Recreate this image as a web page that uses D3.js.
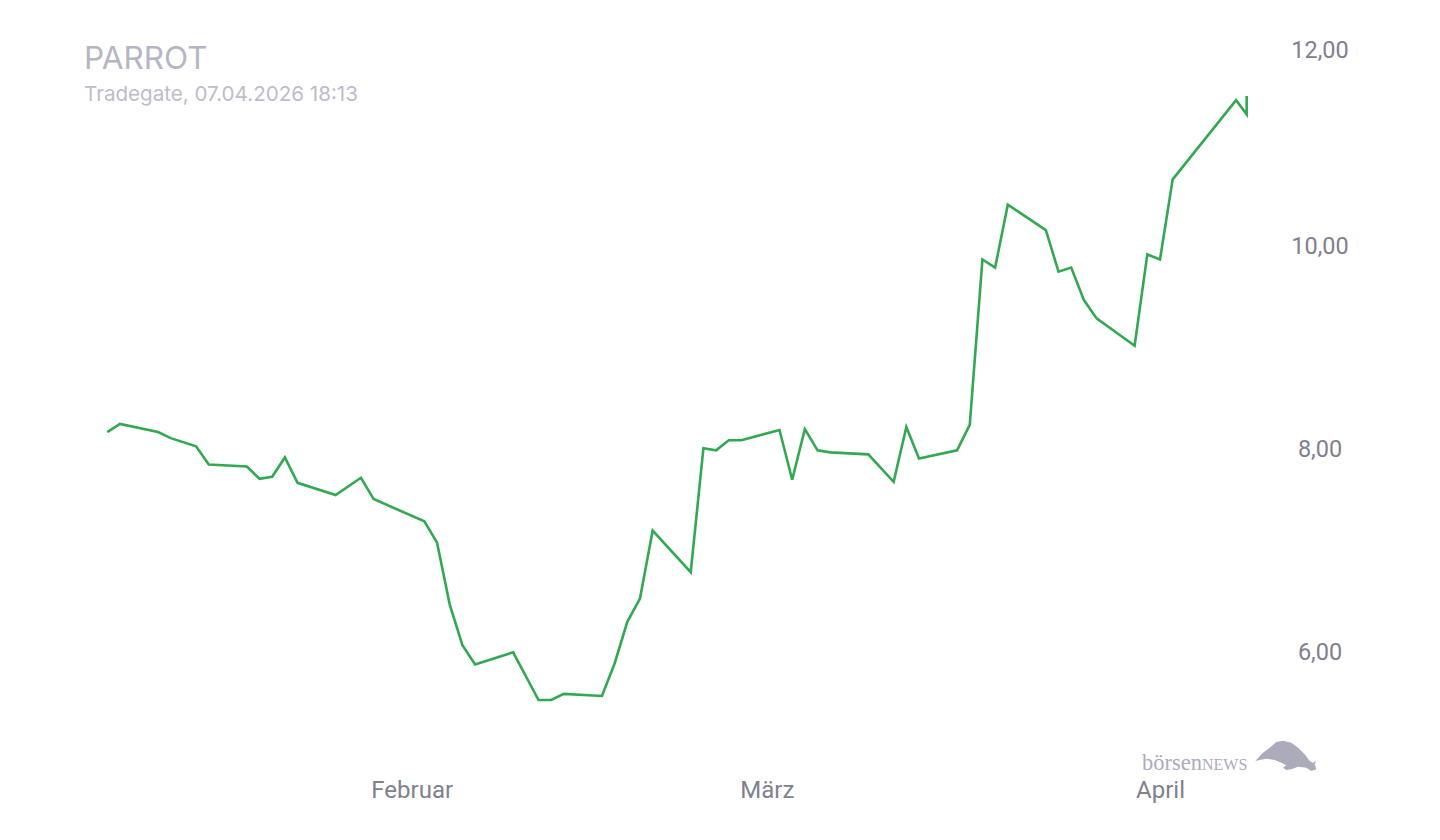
<!DOCTYPE html>
<html>
<head>
<meta charset="utf-8">
<script src="https://cdn.jsdelivr.net/npm/d3@7"></script>
<style>
  html, body { margin: 0; padding: 0; background: #ffffff; }
  svg { display: block; }
</style>
</head>
<body>
<svg id="chart" width="1440" height="840"></svg>
<script>
// ---- data ----
const dates = [
  "2026-01-08","2026-01-09","2026-01-12","2026-01-13","2026-01-15","2026-01-16",
  "2026-01-19","2026-01-20","2026-01-21","2026-01-22","2026-01-23","2026-01-26",
  "2026-01-28","2026-01-29","2026-02-02","2026-02-03","2026-02-04","2026-02-05",
  "2026-02-06","2026-02-09","2026-02-11","2026-02-12","2026-02-13","2026-02-16",
  "2026-02-17","2026-02-18","2026-02-19","2026-02-20","2026-02-23","2026-02-24",
  "2026-02-25","2026-02-26","2026-02-27","2026-03-02","2026-03-03","2026-03-04",
  "2026-03-05","2026-03-06","2026-03-09","2026-03-11","2026-03-12","2026-03-13",
  "2026-03-16","2026-03-17","2026-03-18","2026-03-19","2026-03-20","2026-03-23",
  "2026-03-24","2026-03-25","2026-03-26","2026-03-27","2026-03-30","2026-03-31",
  "2026-04-01","2026-04-02","2026-04-07","2026-04-07T20:00","2026-04-07T20:00"
];
const prices = [
  8.16, 8.24, 8.16, 8.10, 8.02, 7.84,
  7.82, 7.70, 7.72, 7.91, 7.66, 7.54,
  7.71, 7.50, 7.28, 7.07, 6.46, 6.06,
  5.87, 5.99, 5.52, 5.52, 5.58, 5.56,
  5.88, 6.29, 6.52, 7.19, 6.78, 8.00,
  7.98, 8.08, 8.08, 8.18, 7.69, 8.19,
  7.98, 7.96, 7.94, 7.67, 8.21, 7.90,
  7.98, 8.23, 9.86, 9.78, 10.40, 10.15,
  9.74, 9.78, 9.46, 9.28, 9.01, 9.91,
  9.86, 10.65, 11.43, 11.29, 11.47
];
const yTicks = [6, 8, 10, 12];
const xTickDates = ["2026-02-01","2026-03-01","2026-04-01"];
const xTickLabels = ["Februar","März","April"];
const titleText = "PARROT";
const subtitleText = "Tradegate, 07.04.2026 18:13";

// ---- setup ----
const svg = d3.select("#chart");
const parse = s => new Date(s.length > 10 ? s + ":00Z" : s + "T00:00:00Z");
const data = dates.map((d, i) => ({ date: parse(d), value: prices[i] }));

const x = d3.scaleUtc()
  .domain([parse("2026-01-08"), parse("2026-04-01")])
  .range([107.3, 1160]);
const y = d3.scaleLinear()
  .domain([6, 12])
  .range([651.3, 42.3]);

const axisColor = "#80808f";
const fontAxis = "Roboto, 'Noto Sans', sans-serif";

// ---- line ----
const line = d3.line()
  .x(d => x(d.date))
  .y(d => y(d.value));

svg.append("path")
  .datum(data)
  .attr("d", line)
  .attr("fill", "none")
  .attr("stroke", "#33a853")
  .attr("stroke-width", 2.6)
  .attr("stroke-linejoin", "miter")
  .attr("stroke-linecap", "butt");

// ---- y axis (right) ----
const fmt = v => d3.format(".2f")(v).replace(".", ",");
const yAxis = d3.axisRight(y).tickValues(yTicks).tickFormat(fmt).tickSize(0);
const gy = svg.append("g").attr("transform", "translate(1320,0)").call(yAxis);
gy.select(".domain").remove();
gy.selectAll(".tick").attr("transform", d => `translate(0,${Math.max(y(d), 50)})`);
gy.selectAll(".tick text")
  .attr("x", 0)
  .attr("dy", "0.355em")
  .attr("text-anchor", "middle")
  .attr("fill", axisColor)
  .style("font-family", fontAxis)
  .style("font-size", "23.5px");

// ---- x axis ----
const xAxis = d3.axisBottom(x)
  .tickValues(xTickDates.map(parse))
  .tickFormat((d, i) => xTickLabels[i])
  .tickSize(0);
const gx = svg.append("g").attr("transform", "translate(0,798)").call(xAxis);
gx.select(".domain").remove();
gx.selectAll(".tick text")
  .attr("y", 0)
  .attr("dy", 0)
  .attr("text-anchor", "middle")
  .attr("fill", axisColor)
  .style("font-family", fontAxis)
  .style("font-size", "24px");

// ---- title ----
svg.append("text")
  .attr("x", 84)
  .attr("y", 69)
  .attr("fill", "#b6b5c4")
  .style("font-family", "Inter, 'Noto Sans', sans-serif")
  .style("font-size", "31.5px")
  .text(titleText);
svg.append("text")
  .attr("x", 84)
  .attr("y", 101)
  .attr("fill", "#bdbccb")
  .style("font-family", "Inter, 'Noto Sans', sans-serif")
  .style("font-size", "20.6px")
  .text(subtitleText);

// ---- logo ----
const logo = svg.append("g").attr("fill", "#acabbb");
const lt = logo.append("text")
  .attr("x", 1142)
  .attr("y", 769.5)
  .style("font-family", "'Liberation Serif', 'DejaVu Serif', serif")
  .style("font-size", "22.5px");
lt.append("tspan").text("börsen");
lt.append("tspan").style("font-size", "16px").text("NEWS");
logo.append("path")
  .attr("d", "M1255.3,761 L1263,752.7 L1269.7,747.7 L1276.3,742 L1283,740.7 L1291.3,742.7 L1298,747.7 L1304.7,754.3 L1309.7,761 L1313,762.7 L1316.3,761 L1314.7,764.3 L1316.3,769.3 L1311.3,771 L1306.3,767.7 L1298,766.7 L1291.3,769.3 L1286.3,770 L1283,767.7 L1286.3,765.3 L1281.3,762.7 L1274.7,760 L1266.3,758.7 L1259.7,760 Z");
</script>
</body>
</html>
